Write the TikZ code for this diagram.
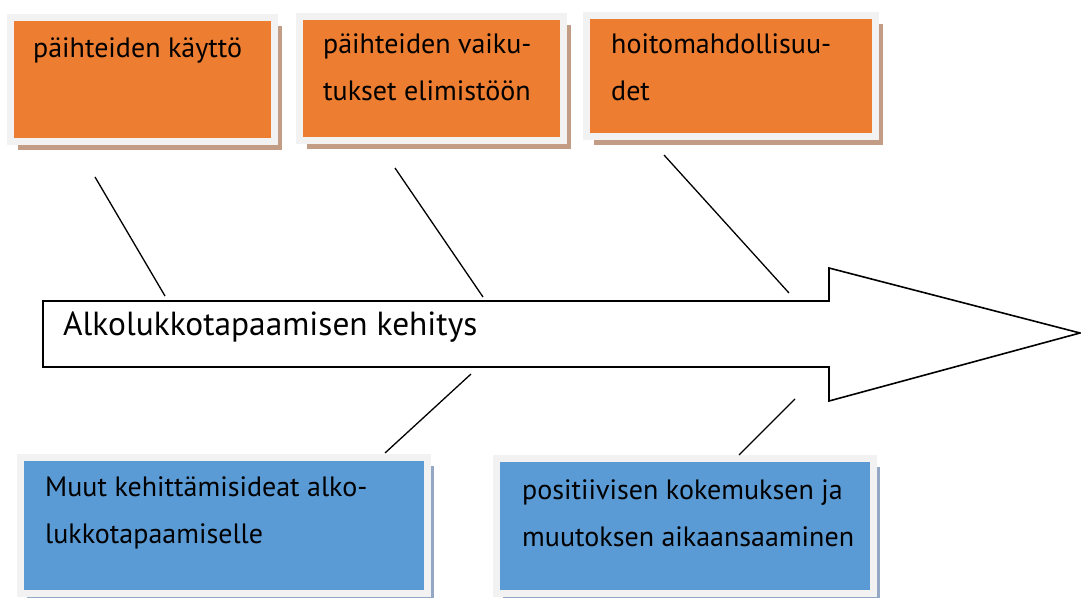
\documentclass[tikz,border=0pt]{standalone}
\usepackage{fontspec}
\setmainfont{PT Sans}
\usetikzlibrary{shadows, positioning, calc}

\definecolor{boxorange}{HTML}{ED7D31}
\definecolor{boxblue}{HTML}{5B9BD5}
\definecolor{framegrey}{HTML}{F2F2F2}
\definecolor{shadowbrown}{HTML}{C29C84}
\definecolor{shadowblue}{HTML}{94A8C6}

\begin{document}
\begin{tikzpicture}[
    x=1pt, y=-1pt,
    box/.style={rectangle, draw=framegrey, line width=7.5pt, inner sep=0pt},
    cause/.style={box, fill=boxorange, drop shadow={shadow xshift=7pt, shadow yshift=-8pt, fill=shadowbrown, opacity=1}},
    effect/.style={box, fill=boxblue, drop shadow={shadow xshift=6pt, shadow yshift=-8pt, fill=shadowblue, opacity=1}},
    boxtext/.style={anchor=base west, inner sep=0pt, align=left, font=\fontsize{28}{47}\selectfont},
    bone/.style={line width=1.3pt}
]
\useasboundingbox (0,0) rectangle (1081,597);

% upper boxes
\node[cause, minimum width=264, minimum height=124] (kaytto) at (142.5,79.5) {};
\node[cause, minimum width=264, minimum height=124] (vaikutukset) at (431.5,78.5) {};
\node[cause, minimum width=289, minimum height=121] (hoito) at (731,76) {};
% lower boxes
\node[effect, minimum width=407, minimum height=136] (ideat) at (224,525.5) {};
\node[effect, minimum width=377, minimum height=135] (muutos) at (685,526) {};

% texts (base = last line)
\node[boxtext] (kayttotext) at (33,57) {päihteiden käyttö};
\node[boxtext] (vaikutuksettext) at (323,100) {päihteiden vaiku-\\tukset elimistöön};
\node[boxtext] (hoitotext) at (611,100) {hoitomahdollisuu-\\det};
\node[boxtext] (ideattext) at (45,543) {Muut kehittämisideat alko-\\lukkotapaamiselle};
\node[boxtext] (muutostext) at (522,546) {positiivisen kokemuksen ja\\muutoksen aikaansaaminen};

% main arrow
\draw[line width=1.6pt, fill=white] (43,301) -- (829,301) -- (829,268) -- (1080,333)
    -- (829,401) -- (829,367) -- (43,367) -- cycle;
\node[boxtext, font=\fontsize{33.4}{40}\selectfont] (kehitys) at (63,335) {Alkolukkotapaamisen kehitys};

% bones
\coordinate (b1) at (95,177);  \coordinate (s1) at (165,296);
\coordinate (b2) at (395,168); \coordinate (s2) at (483,297);
\coordinate (b3) at (664,155); \coordinate (s3) at (789,293);
\coordinate (b4) at (471,374); \coordinate (s4) at (385,453);
\coordinate (b5) at (795,399); \coordinate (s5) at (739,455);
\foreach \i in {1,...,5}
    \draw[bone] (b\i) -- (s\i);
\end{tikzpicture}
\end{document}
